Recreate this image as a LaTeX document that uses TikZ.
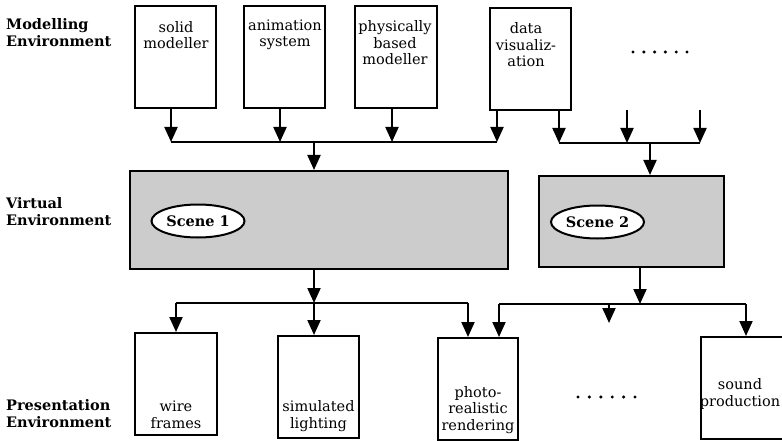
\documentclass[tikz,border=0pt]{standalone}
\usepackage{fontspec}
\setmainfont{DejaVu Serif}
\usetikzlibrary{arrows.meta, shapes.geometric}

\tikzset{
  box/.style={draw, line width=2pt, minimum width=81pt, minimum height=102pt, inner sep=0pt},
  scenebox/.style={draw, line width=2pt, fill=gray!40, inner sep=0pt},
  scene/.style={draw, ellipse, line width=2pt, fill=white, minimum width=93pt,
    minimum height=33pt, inner sep=0pt, font=\fontsize{14.5}{16}\selectfont\bfseries},
  boxtext/.style={align=center, inner sep=0pt, font=\fontsize{14.5}{16.5}\selectfont},
  level/.style={align=left, anchor=west, inner sep=0pt, font=\fontsize{14.5}{17}\selectfont\bfseries},
  feed/.style={line width=2pt, -{Triangle[width=13pt,length=15pt]}},
  bus/.style={line width=2pt},
}

\begin{document}
\begin{tikzpicture}[x=1pt, y=-1pt]

    \clip (0,0) rectangle (782,441);

    % Level names down the left side
    \node[level] (lv-model)   at (6,33)  {Modelling\\Environment};
    \node[level] (lv-virtual) at (6,212) {Virtual\\Environment};
    \node[level] (lv-present) at (6,414) {Presentation\\Environment};

    % Modelling tools
    \node[box] (solid) at (175.5,57.5) {};
    \node[box] (anim)  at (284,57.5)   {};
    \node[box, minimum width=82pt] (phys) at (396,57.5) {};
    \node[box] (data)  at (530.5,59)   {};
    \node[boxtext] (solid-txt) at (176,35) {solid\\modeller};
    \node[boxtext] (anim-txt)  at (285,35) {animation\\system};
    \node[boxtext] (phys-txt)  at (395,43) {physically\\based\\modeller};
    \node[boxtext] (data-txt)  at (526,45) {data\\visualiz-\\ation};
    \coordinate (dots-top) at (633,52);
    \foreach \i in {0,...,5}
        \fill ([xshift=\i*10.8pt]dots-top) circle (1.7pt);

    % Scenes
    \node[scenebox, minimum width=378pt, minimum height=98pt] (scene1) at (319,220) {};
    \node[scenebox, minimum width=185pt, minimum height=91pt] (scene2) at (631.5,221.5) {};
    \node[scene] (s1) at (198,221)   {Scene 1};
    \node[scene] (s2) at (597.5,222) {Scene 2};

    % Presentation outputs
    \node[box, minimum width=82pt] (wire)  at (176,384)   {};
    \node[box] (simul) at (318.5,387) {};
    \node[box, minimum width=80pt] (photo) at (478,389)   {};
    \node[box, minimum width=88pt] (sound) at (745,388)   {};
    \node[boxtext] (wire-txt)  at (176,415)   {wire\\frames};
    \node[boxtext] (simul-txt) at (318.5,416) {simulated\\lighting};
    \node[boxtext] (photo-txt) at (478,410)   {photo-\\realistic\\rendering};
    \node[boxtext] (sound-txt) at (740,394)   {sound\\production};
    \coordinate (dots-bot) at (578,397);
    \foreach \i in {0,...,5}
        \fill ([xshift=\i*11.4pt]dots-bot) circle (1.7pt);

    % Upper buses: tools into scenes
    \coordinate (inA1) at (171,142);
    \coordinate (inA2) at (280,142);
    \coordinate (inA3) at (392,142);
    \coordinate (inA4) at (497,142);
    \coordinate (outA) at (314,142);
    \draw[feed] (solid.south -| inA1) -- (inA1);
    \draw[feed] (anim.south -| inA2)  -- (inA2);
    \draw[feed] (phys.south -| inA3)  -- (inA3);
    \draw[feed] (data.south -| inA4)  -- (inA4);
    \draw[bus] (inA1) -- (inA4);
    \draw[feed] (outA) -- (outA |- scene1.north);

    \coordinate (inB1) at (559,143);
    \coordinate (inB2) at (627,143);
    \coordinate (inB3) at (700,143);
    \coordinate (outB) at (650,143);
    \coordinate (freeB2) at (627,110);
    \coordinate (freeB3) at (700,110);
    \draw[feed] (data.south -| inB1) -- (inB1);
    \draw[feed] (freeB2) -- (inB2);
    \draw[feed] (freeB3) -- (inB3);
    \draw[bus] (inB1) -- (inB3);
    \draw[feed] (outB) -- (outB |- scene2.north);

    % Lower buses: scenes out to presentation
    \coordinate (busC) at (314,303);
    \coordinate (busC-l) at (176,303);
    \coordinate (busC-r) at (468,303);
    \draw[feed] (scene1.south -| busC) -- (busC);
    \draw[bus] (busC-l) -- (busC-r);
    \draw[feed] (busC-l) -- (busC-l |- wire.north);
    \draw[feed] (busC) -- (busC |- simul.north);
    \draw[feed] (busC-r) -- (busC-r |- photo.north);

    \coordinate (busD) at (640,304);
    \coordinate (busD-l) at (499,304);
    \coordinate (busD-m) at (609,304);
    \coordinate (busD-r) at (746,304);
    \coordinate (freeD) at (609,323);
    \draw[feed] (scene2.south -| busD) -- (busD);
    \draw[bus] (busD-l) -- (busD-r);
    \draw[feed] (busD-l) -- (busD-l |- photo.north);
    \draw[feed] (busD-m) -- (freeD);
    \draw[feed] (busD-r) -- (busD-r |- sound.north);

\end{tikzpicture}
\end{document}
